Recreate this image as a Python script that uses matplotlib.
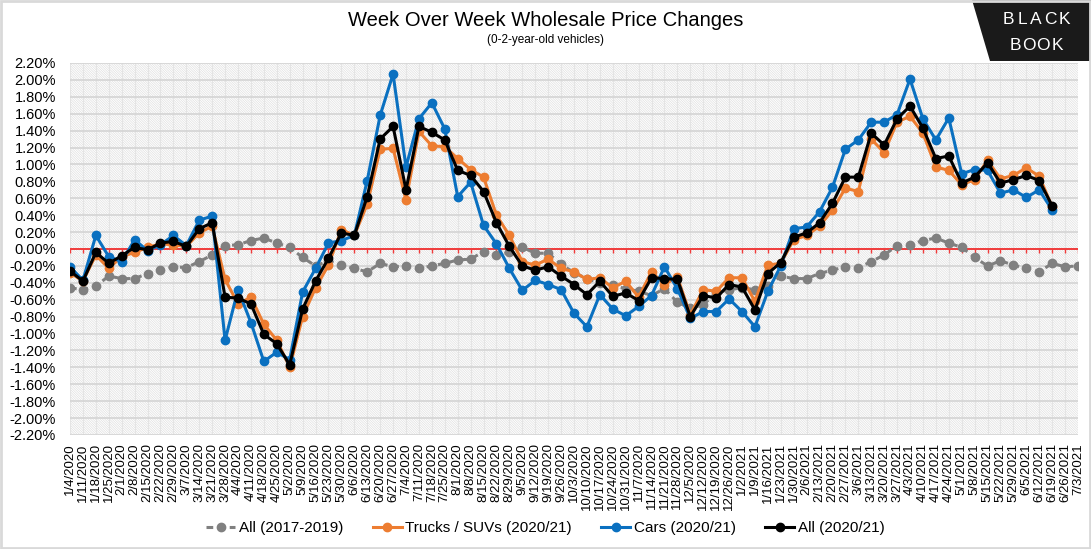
"""Week over week wholesale price changes, Black Book style chart."""
import matplotlib
matplotlib.use('Agg')
import matplotlib.pyplot as plt
from matplotlib import font_manager
from matplotlib.patches import Rectangle, Polygon
import numpy as np
import pandas as pd

# weekly dates 1/4/2020 .. 7/3/2021
weeks = pd.date_range('2020-01-04', '2021-07-03', freq='7D')
week_labels = [f"{d.month}/{d.day}/{d.year}" for d in weeks]

# values in percent
all_2017_2019 = [-0.46, -0.48, -0.44, -0.32, -0.35, -0.35, -0.29, -0.25, -0.21, -0.22,
                 -0.15, -0.07, 0.04, 0.05, 0.10, 0.13, 0.07, 0.02, -0.10, -0.20,
                 -0.14, -0.19, -0.23, -0.27, -0.17, -0.21, -0.20, -0.23, -0.20, -0.17,
                 -0.13, -0.12, -0.03, -0.07, -0.04, 0.02, -0.05, -0.05, -0.18, -0.28,
                 -0.35, -0.40, -0.43, -0.47, -0.50, -0.55, -0.47, -0.63, -0.70, -0.66,
                 -0.52, -0.48, -0.46, -0.48, -0.44, -0.32, -0.35, -0.35, -0.29, -0.25,
                 -0.21, -0.22, -0.15, -0.07, 0.04, 0.05, 0.10, 0.13, 0.07, 0.02,
                 -0.10, -0.20, -0.14, -0.19, -0.23, -0.27, -0.17, -0.21, -0.20]

trucks_suvs = [-0.28, -0.38, -0.07, -0.23, -0.09, -0.04, 0.02, 0.06, 0.05, 0.03,
               0.19, 0.27, -0.36, -0.65, -0.57, -0.89, -1.08, -1.40, -0.80, -0.46,
               -0.19, 0.23, 0.16, 0.53, 1.18, 1.19, 0.58, 1.39, 1.22, 1.21,
               1.07, 0.94, 0.85, 0.40, 0.16, -0.15, -0.19, -0.12, -0.23, -0.27,
               -0.36, -0.34, -0.46, -0.38, -0.57, -0.27, -0.42, -0.33, -0.78, -0.48,
               -0.50, -0.34, -0.34, -0.62, -0.19, -0.17, 0.11, 0.16, 0.27, 0.46,
               0.72, 0.68, 1.30, 1.14, 1.50, 1.57, 1.37, 0.97, 0.93, 0.76,
               0.82, 1.05, 0.83, 0.87, 0.96, 0.86, 0.50]

cars = [-0.21, -0.37, 0.16, -0.09, -0.15, 0.11, -0.02, 0.05, 0.16, 0.04,
        0.34, 0.39, -1.08, -0.48, -0.87, -1.33, -1.22, -1.31, -0.51, -0.23,
        0.07, 0.10, 0.16, 0.81, 1.58, 2.07, 0.97, 1.54, 1.73, 1.42,
        0.62, 0.79, 0.28, 0.06, -0.23, -0.49, -0.37, -0.42, -0.48, -0.76,
        -0.92, -0.54, -0.71, -0.79, -0.68, -0.55, -0.21, -0.47, -0.82, -0.74,
        -0.74, -0.59, -0.74, -0.92, -0.50, -0.20, 0.24, 0.26, 0.44, 0.73,
        1.18, 1.29, 1.50, 1.50, 1.59, 2.01, 1.54, 1.29, 1.55, 0.89,
        0.94, 0.93, 0.66, 0.70, 0.61, 0.70, 0.46]

all_2020_21 = [-0.26, -0.38, -0.04, -0.17, -0.08, 0.02, -0.01, 0.07, 0.09, 0.03,
               0.24, 0.31, -0.57, -0.58, -0.65, -1.01, -1.12, -1.37, -0.71, -0.38,
               -0.11, 0.19, 0.16, 0.62, 1.30, 1.45, 0.70, 1.45, 1.38, 1.29,
               0.93, 0.87, 0.68, 0.31, 0.03, -0.20, -0.25, -0.21, -0.32, -0.42,
               -0.54, -0.38, -0.56, -0.52, -0.61, -0.34, -0.35, -0.36, -0.80, -0.55,
               -0.58, -0.42, -0.45, -0.72, -0.29, -0.16, 0.14, 0.19, 0.31, 0.54,
               0.85, 0.85, 1.37, 1.23, 1.54, 1.69, 1.43, 1.07, 1.10, 0.78,
               0.85, 1.02, 0.78, 0.82, 0.87, 0.81, 0.51]

y_ticks = np.arange(-2.2, 2.21, 0.2)

# fonts
names = set(f.name for f in font_manager.fontManager.ttflist)
base_font = 'Liberation Sans' if 'Liberation Sans' in names else 'DejaVu Sans'
title_font = 'Liberation Sans Narrow' if 'Liberation Sans Narrow' in names else base_font
plt.rcParams['font.family'] = [base_font, 'DejaVu Sans']
plt.rcParams['hatch.linewidth'] = 0.5

fig = plt.figure(figsize=(10.91, 5.49), dpi=100)
W, H = 1091, 549
ax = fig.add_axes([70 / W, 1 - 435 / H, (1078 - 70) / W, (435 - 63) / H])
ax.set_facecolor('none')

# hatched plot background
ax.add_patch(Rectangle((0, 0), 1, 1, transform=ax.transAxes, facecolor='white',
                       edgecolor='#e0e0e0', hatch='\\' * 14, lw=0, zorder=0))

x_all = np.arange(len(weeks))
ax.set_xlim(0, len(weeks) - 1)
ax.set_ylim(-2.2, 2.2)

ax.set_axisbelow(True)
ax.yaxis.grid(True, color='#d4d4d4', lw=1.2)
ax.xaxis.grid(True, color='#e4e4e4', lw=0.8)
for s in ax.spines.values():
    s.set_visible(False)

# zero line with red ticks
ax.axhline(0, color='#f03c3c', lw=1.4, zorder=2)
ax.vlines(x_all, -0.05, 0, color='#f03c3c', lw=1.0, zorder=2)

ax.plot(np.arange(len(all_2017_2019)), all_2017_2019, color='#808080', lw=2.2,
        dashes=(2.2, 1.6), marker='o', ms=6, zorder=3, label='All (2017-2019)')
ax.plot(np.arange(len(trucks_suvs)), trucks_suvs, color='#ED7D31', lw=2.2,
        marker='o', ms=6, zorder=4, label='Trucks / SUVs (2020/21)')
ax.plot(np.arange(len(cars)), cars, color='#0A70C0', lw=2.2,
        marker='o', ms=6, zorder=5, label='Cars (2020/21)')
ax.plot(np.arange(len(all_2020_21)), all_2020_21, color='#000000', lw=2.2,
        marker='o', ms=6, zorder=6, label='All (2020/21)')

ax.set_xticks(x_all)
ax.set_xticklabels(week_labels, rotation=90, fontsize=9.5)
ax.set_yticks(y_ticks)
ax.set_yticklabels([f"{np.round(v, 2) + 0.0:.2f}%" for v in y_ticks], fontsize=10.5)
ax.tick_params(axis='x', length=0, pad=6)
ax.tick_params(axis='y', length=0, pad=10)

# titles
fig.text(0.5, 1 - 20 / H, 'Week Over Week Wholesale Price Changes', ha='center',
         va='center', fontsize=14.5, family=title_font)
fig.text(0.5, 1 - 40 / H, '(0-2-year-old vehicles)', ha='center', va='center',
         fontsize=8.5, family=title_font)

# legend
handles, labels = ax.get_legend_handles_labels()
fig.legend(handles, labels, loc='center', bbox_to_anchor=(0.5, 1 - 528 / H), ncol=4,
           frameon=False, fontsize=11, handlelength=1.9, columnspacing=1.9,
           handletextpad=0.25)

# logo
fig.patches.append(Polygon([(972 / W, 1), (1091 / W, 1), (1091 / W, 1 - 61 / H),
                            (990 / W, 1 - 61 / H)], closed=True, transform=fig.transFigure,
                           facecolor='#1a1a1a', edgecolor='none'))
for word, yy in (('BLACK', 20), ('BOOK', 45)):
    step = 14
    x0 = 1036 - step * (len(word) - 1) / 2
    for k, ch in enumerate(word):
        fig.text((x0 + k * step) / W, 1 - yy / H, ch, ha='center', va='center',
                 color='white', fontsize=12.5, fontweight='medium')

# outer border
fig.patches.append(Rectangle((0.001, 0.002), 0.998, 0.996, transform=fig.transFigure,
                             facecolor='none', edgecolor='#d9d9d9', lw=2))

fig.savefig('out.png', dpi=100)
